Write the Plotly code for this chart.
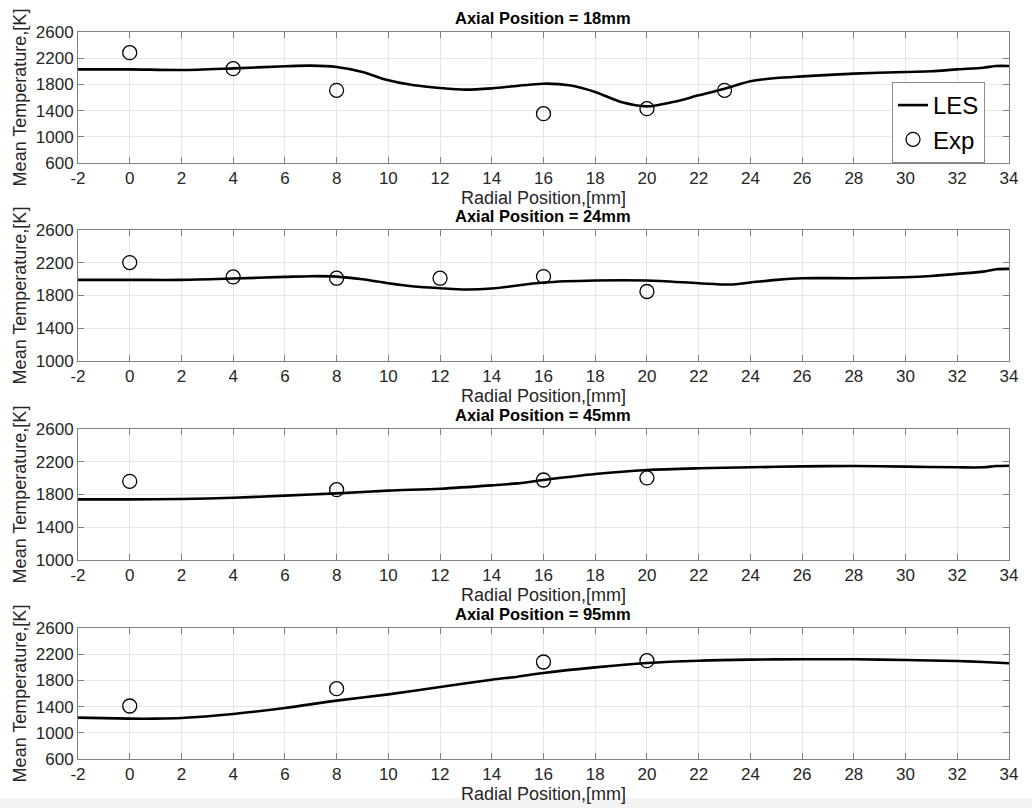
import plotly.graph_objects as go

# LES radial temperature profiles (x in mm, T in K) and experimental points
les_x_18 = [-2, 0, 2, 4, 6, 7, 8, 9, 10, 11, 12, 13, 14, 16, 17, 18, 19, 20, 21, 22, 23, 24, 25, 26, 28, 30, 31, 32, 33, 33.5, 34]
les_t_18 = [2030, 2030, 2020, 2045, 2076, 2086, 2066, 1990, 1862, 1786, 1745, 1720, 1740, 1811, 1786, 1684, 1531, 1465, 1531, 1633, 1735, 1847, 1898, 1923, 1964, 1990, 2000, 2030, 2055, 2081, 2081]
exp_x_18 = [0, 4, 8, 16, 20, 23]
exp_t_18 = [2284, 2040, 1709, 1353, 1430, 1709]

les_x_24 = [-2, 0, 2, 4, 6, 7, 8, 9, 10, 11, 12, 13, 14, 16, 18, 20, 22, 23.2, 24, 25, 26, 28, 30, 31, 32, 33, 33.5, 34]
les_t_24 = [1991, 1991, 1991, 2007, 2027, 2036, 2031, 1999, 1950, 1910, 1889, 1873, 1885, 1958, 1983, 1983, 1950, 1934, 1958, 1991, 2011, 2011, 2023, 2039, 2064, 2092, 2121, 2125]
exp_x_24 = [0, 4, 8, 12, 16, 20]
exp_t_24 = [2202, 2027, 2011, 2011, 2031, 1849]

les_x_45 = [-2, 0, 2, 4, 6, 8, 10, 12, 14, 15, 16, 18, 20, 22, 24, 26, 28, 30, 32, 33, 33.5, 34]
les_t_45 = [1741, 1741, 1745, 1761, 1786, 1814, 1847, 1871, 1912, 1936, 1977, 2050, 2099, 2120, 2132, 2144, 2148, 2140, 2132, 2132, 2148, 2152]
exp_x_45 = [0, 8, 16, 20]
exp_t_45 = [1961, 1859, 1977, 2002]

les_x_95 = [-2, 0, 1, 2, 4, 6, 8, 10, 12, 14, 15, 16, 18, 20, 22, 24, 26, 28, 30, 32, 33, 34]
les_t_95 = [1231, 1216, 1216, 1226, 1287, 1379, 1491, 1587, 1699, 1811, 1857, 1913, 1999, 2066, 2101, 2117, 2122, 2122, 2111, 2096, 2081, 2061]
exp_x_95 = [0, 8, 16, 20]
exp_t_95 = [1409, 1674, 2081, 2101]

panel_titles = ["Axial Position = 18mm", "Axial Position = 24mm",
                "Axial Position = 45mm", "Axial Position = 95mm"]
y_ranges = [[600, 2600], [1000, 2600], [1000, 2600], [600, 2600]]
y_ticks = [[600, 1000, 1400, 1800, 2200, 2600],
           [1000, 1400, 1800, 2200, 2600],
           [1000, 1400, 1800, 2200, 2600],
           [600, 1000, 1400, 1800, 2200, 2600]]
x_ticks = list(range(-2, 35, 2))

panels = [
    (les_x_18, les_t_18, exp_x_18, exp_t_18),
    (les_x_24, les_t_24, exp_x_24, exp_t_24),
    (les_x_45, les_t_45, exp_x_45, exp_t_45),
    (les_x_95, les_t_95, exp_x_95, exp_t_95),
]

W, H = 1032, 808
x_dom = [78 / W, 1009 / W]
# plot-area top/bottom in pixels for each panel
px_rows = [(32, 163), (230, 361), (429, 560), (628, 759)]

FONT = "Liberation Sans, Arial, Helvetica, sans-serif"
AX_COL = "#808080"
GRID_COL = "#e6e6e6"
TXT_COL = "#262626"

fig = go.Figure()
layout = dict(
    width=W, height=H,
    margin=dict(l=0, r=0, t=0, b=0, autoexpand=False),
    paper_bgcolor="white", plot_bgcolor="white",
    font=dict(family=FONT, color=TXT_COL),
    showlegend=True,
    legend=dict(
        x=892 / W, y=1 - 82 / H, xanchor="left", yanchor="top",
        bgcolor="white", bordercolor="#8c8c8c", borderwidth=1,
        font=dict(size=24, color="black", family=FONT),
        tracegroupgap=0, itemwidth=30,
    ),
    annotations=[],
    # faint strip along the bottom edge of the figure
    shapes=[dict(type="rect", xref="paper", yref="paper",
                 x0=0, x1=1, y0=0, y1=1 - 798 / H,
                 fillcolor="#f3f3f3", line=dict(width=0), layer="below")],
)

for i, (lx, lt, ex, et) in enumerate(panels):
    k = "" if i == 0 else str(i + 1)
    top, bot = px_rows[i]
    y_dom = [1 - bot / H, 1 - top / H]
    fig.add_trace(go.Scatter(
        x=lx, y=lt, mode="lines", name="LES",
        line=dict(color="black", width=2.6, shape="spline", smoothing=0.8),
        xaxis="x" + k, yaxis="y" + k, showlegend=(i == 0),
    ))
    fig.add_trace(go.Scatter(
        x=ex, y=et, mode="markers", name="Exp",
        marker=dict(symbol="circle-open", size=14, color="black", line=dict(width=1.3)),
        xaxis="x" + k, yaxis="y" + k, showlegend=(i == 0),
    ))
    layout["xaxis" + k] = dict(
        domain=x_dom, anchor="y" + k, range=[-2, 34], automargin=False,
        tickvals=x_ticks, ticktext=[str(v) for v in x_ticks],
        ticks="inside", ticklen=6, tickcolor=AX_COL, mirror="ticks",
        showline=True, linecolor=AX_COL, linewidth=1,
        showgrid=True, gridcolor=GRID_COL, gridwidth=1, zeroline=False,
        tickfont=dict(size=17, color=TXT_COL),
        title=dict(text="Radial Position,[mm]", font=dict(size=18, color=TXT_COL), standoff=0),
    )
    layout["yaxis" + k] = dict(
        domain=y_dom, anchor="x" + k, range=y_ranges[i], automargin=False,
        tickvals=y_ticks[i], ticktext=[str(v) for v in y_ticks[i]],
        ticks="inside", ticklen=6, tickcolor=AX_COL, mirror="ticks",
        showline=True, linecolor=AX_COL, linewidth=1,
        showgrid=True, gridcolor=GRID_COL, gridwidth=1, zeroline=False,
        tickfont=dict(size=17, color=TXT_COL),
        title=dict(text="Mean Temperature,[K]", font=dict(size=18, color=TXT_COL), standoff=4),
    )
    layout["annotations"].append(dict(
        text="<b>" + panel_titles[i] + "</b>",
        x=(x_dom[0] + x_dom[1]) / 2, y=1 - (top - 3) / H,
        xref="paper", yref="paper", xanchor="center", yanchor="bottom",
        showarrow=False, font=dict(size=16.5, color="black", family=FONT),
    ))

fig.update_layout(**layout)
fig.write_html("out.html")
